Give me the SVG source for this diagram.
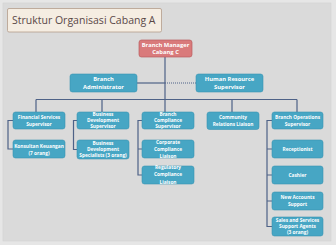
<svg xmlns="http://www.w3.org/2000/svg" width="336" height="245" viewBox="0 0 336 245">
  <style>
    .box { fill: #47a6c4; stroke: #3b93b1; stroke-width: 0.6; }
    .head { fill: #d97a7b; stroke: #b95c5e; stroke-width: 0.7; }
    .lbl { font-family: "Open Sans", "Noto Sans", sans-serif; font-weight: bold; fill: #ffffff; text-anchor: middle; }
    .big { font-size: 5.8px; }
    .sm { font-size: 4.8px; }
    .ln { stroke: #4e6287; stroke-width: 1.2; fill: none; }
    .dot { stroke: #4e6287; stroke-width: 1.2; fill: none; stroke-dasharray: 1 1; }
  </style>

  <!-- canvas -->
  <rect x="0" y="0" width="336" height="245" fill="#e6e6e6"/>
  <rect x="3" y="3" width="328" height="238" fill="#dadada" stroke="#d2d2d2" stroke-width="0.6"/>

  <!-- title -->
  <g id="title">
    <rect x="7.5" y="8.5" width="154" height="23.5" rx="1.5" fill="#f5ede2" stroke="#b29c8c" stroke-width="0.8"/>
    <text x="12" y="24" font-family="Open Sans, Noto Sans, sans-serif" font-size="10.5" fill="#5a4848">Struktur Organisasi Cabang A</text>
  </g>

  <!-- connectors -->
  <g id="connectors">
    <path class="ln" d="M165 57 V112"/>
    <path class="ln" d="M137 83 H165"/>
    <path class="dot" d="M165 83 H196"/>
    <path class="ln" d="M36 99.5 H297"/>
    <path class="ln" d="M36 99.5 V112 M102 99.5 V112 M232 99.5 V112 M297 99.5 V112"/>
    <path class="ln" d="M13 120.5 H8 V149 H13"/>
    <path class="ln" d="M77 120.5 H73.5 V149.5 H77"/>
    <path class="ln" d="M142 120.5 H138 V175 H142 M138 149 H142"/>
    <path class="ln" d="M272 120.5 H267 V226.5 H272 M267 149 H272 M267 175 H272 M267 201 H272"/>
  </g>

  <!-- nodes -->
  <g id="branch-manager">
    <rect class="head" x="139" y="40" width="53" height="17" rx="2.5"/>
    <text class="lbl big" x="165.5" y="46.8">Branch Manager</text>
    <text class="lbl big" x="165.5" y="54.3">Cabang C</text>
  </g>

  <g id="branch-administrator">
    <rect class="box" x="70" y="74" width="67" height="18" rx="2.5"/>
    <text class="lbl big" x="103.5" y="81.1">Branch</text>
    <text class="lbl big" x="103.5" y="89.1">Administrator</text>
  </g>

  <g id="hr-supervisor">
    <rect class="box" x="196" y="74" width="67" height="18" rx="2.5"/>
    <text class="lbl big" x="229.5" y="81.1">Human Resource</text>
    <text class="lbl big" x="229.5" y="89.1">Supervisor</text>
  </g>

  <g id="financial-services">
    <rect class="box" x="13" y="112" width="52" height="17" rx="2.5"/>
    <text class="lbl sm" x="39" y="118.8">Financial Services</text>
    <text class="lbl sm" x="39" y="125.8">Supervisor</text>
  </g>

  <g id="business-development">
    <rect class="box" x="77" y="112" width="52" height="17" rx="2.5"/>
    <text class="lbl sm" x="103" y="116.3">Business</text>
    <text class="lbl sm" x="103" y="122.3">Development</text>
    <text class="lbl sm" x="103" y="128.3">Supervisor</text>
  </g>

  <g id="branch-compliance">
    <rect class="box" x="142" y="112" width="52" height="17" rx="2.5"/>
    <text class="lbl sm" x="168" y="116.3">Branch</text>
    <text class="lbl sm" x="168" y="122.3">Compliance</text>
    <text class="lbl sm" x="168" y="128.3">Supervisor</text>
  </g>

  <g id="community-relations">
    <rect class="box" x="207" y="112" width="52" height="17.5" rx="2.5"/>
    <text class="lbl sm" x="233" y="118.8">Community</text>
    <text class="lbl sm" x="233" y="125.8">Relations Liaison</text>
  </g>

  <g id="branch-operations">
    <rect class="box" x="272" y="112" width="51" height="17" rx="2.5"/>
    <text class="lbl sm" x="297.5" y="118.8">Branch Operations</text>
    <text class="lbl sm" x="297.5" y="125.8">Supervisor</text>
  </g>

  <g id="konsultan-keuangan">
    <rect class="box" x="13" y="140" width="52" height="18" rx="2.5"/>
    <text class="lbl sm" x="39" y="147.7">Konsultan Keuangan</text>
    <text class="lbl sm" x="39" y="154.7">(7 orang)</text>
  </g>

  <g id="bd-specialists">
    <rect class="box" x="77" y="140" width="52" height="19" rx="2.5"/>
    <text class="lbl sm" x="103" y="145.2">Business</text>
    <text class="lbl sm" x="103" y="151.2">Development</text>
    <text class="lbl sm" x="103" y="157.2">Specialists (3 orang)</text>
  </g>

  <g id="corporate-compliance">
    <rect class="box" x="142" y="140" width="52" height="18" rx="2.5"/>
    <text class="lbl sm" x="168" y="144.2">Corporate</text>
    <text class="lbl sm" x="168" y="151.2">Compliance</text>
    <text class="lbl sm" x="168" y="158.2">Liaison</text>
  </g>

  <g id="regulatory-compliance">
    <rect class="box" x="142" y="166" width="52" height="18" rx="2.5"/>
    <text class="lbl sm" x="168" y="168.7">Regulatory</text>
    <text class="lbl sm" x="168" y="176.2">Compliance</text>
    <text class="lbl sm" x="168" y="183.7">Liaison</text>
  </g>

  <g id="receptionist">
    <rect class="box" x="272" y="140" width="51" height="18" rx="2.5"/>
    <text class="lbl sm" x="297.5" y="150.7">Receptionist</text>
  </g>

  <g id="cashier">
    <rect class="box" x="272" y="166" width="51" height="18" rx="2.5"/>
    <text class="lbl sm" x="297.5" y="176.7">Cashier</text>
  </g>

  <g id="new-accounts">
    <rect class="box" x="272" y="192" width="51" height="18" rx="2.5"/>
    <text class="lbl sm" x="297.5" y="199.2">New Accounts</text>
    <text class="lbl sm" x="297.5" y="206.2">Support</text>
  </g>

  <g id="sales-services">
    <rect class="box" x="272" y="217" width="51" height="19" rx="2.5"/>
    <text class="lbl sm" x="297.5" y="222.2">Sales and Services</text>
    <text class="lbl sm" x="297.5" y="228.2">Support Agents</text>
    <text class="lbl sm" x="297.5" y="234.2">(3 orang)</text>
  </g>
</svg>
